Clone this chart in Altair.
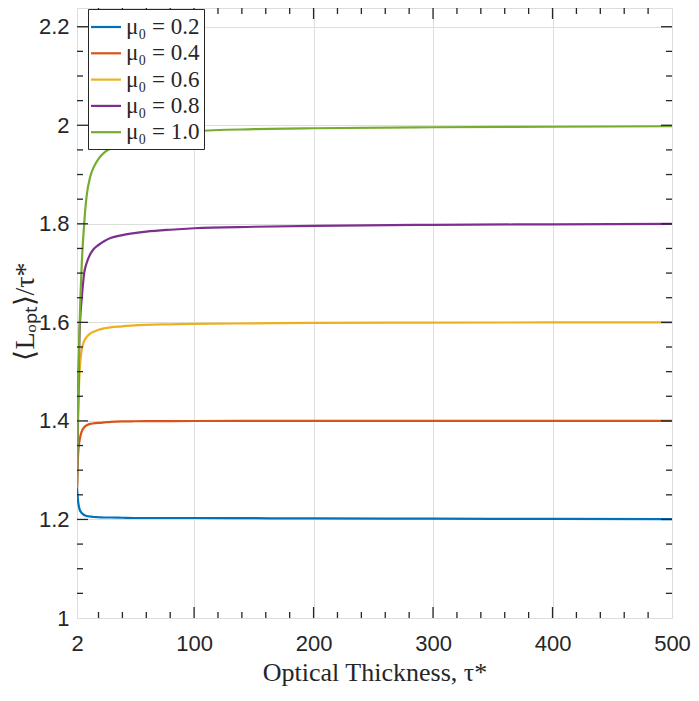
import altair as alt
import pandas as pd

# ---- data ----
tau = [2, 3, 4, 5, 6, 8, 10, 13, 16, 20, 25, 30, 40, 50, 60, 80, 100, 150, 200, 300, 400, 500]
mu02 = [1.265, 1.235, 1.222, 1.216, 1.213, 1.209, 1.207, 1.206, 1.205, 1.2045, 1.204, 1.204, 1.2035, 1.203, 1.203, 1.203, 1.203, 1.2025, 1.202, 1.2015, 1.201, 1.2005]
mu04 = [1.265, 1.335, 1.358, 1.371, 1.379, 1.387, 1.391, 1.394, 1.395, 1.396, 1.397, 1.398, 1.399, 1.3993, 1.3995, 1.3997, 1.3998, 1.3999, 1.4, 1.4, 1.4, 1.4]
mu06 = [1.265, 1.41, 1.49, 1.525, 1.545, 1.562, 1.570, 1.577, 1.581, 1.585, 1.588, 1.590, 1.592, 1.594, 1.595, 1.596, 1.597, 1.598, 1.599, 1.5995, 1.5998, 1.600]
mu08 = [1.265, 1.45, 1.57, 1.62, 1.65, 1.70, 1.72, 1.738, 1.749, 1.757, 1.765, 1.771, 1.777, 1.781, 1.784, 1.788, 1.791, 1.794, 1.796, 1.798, 1.799, 1.800]
mu10 = [1.265, 1.46, 1.58, 1.66, 1.72, 1.80, 1.855, 1.895, 1.915, 1.932, 1.945, 1.953, 1.964, 1.972, 1.977, 1.984, 1.988, 1.992, 1.994, 1.996, 1.997, 1.998]

series_names = ["μ₀ = 0.2", "μ₀ = 0.4", "μ₀ = 0.6", "μ₀ = 0.8", "μ₀ = 1.0"]
series_values = [mu02, mu04, mu06, mu08, mu10]
series_colors = ["#0072BD", "#D95319", "#EDB120", "#7E2F8E", "#77AC30"]

x_tick_labels = [2, 100, 200, 300, 400, 500]
y_tick_labels = [1, 1.2, 1.4, 1.6, 1.8, 2, 2.2]
x_major_ticks = [100, 200, 300, 400]
x_minor_ticks = [20, 40, 60, 80, 120, 140, 160, 180, 220, 240, 260, 280,
                 320, 340, 360, 380, 420, 440, 460, 480]
y_major_ticks = [1.2, 1.4, 1.6, 1.8, 2.0, 2.2]
y_minor_ticks = [1.05, 1.1, 1.15, 1.25, 1.3, 1.35, 1.45, 1.5, 1.55, 1.65, 1.7, 1.75,
                 1.85, 1.9, 1.95, 2.05, 2.1, 2.15]

W, H = 595, 610
X_DOMAIN = [2, 500]
Y_DOMAIN = [1, 2.238]

rows = []
for name, vals in zip(series_names, series_values):
    for t, v in zip(tau, vals):
        rows.append({"tau": t, "val": v, "series": name})
df = pd.DataFrame(rows)

xscale = alt.Scale(domain=X_DOMAIN, nice=False, zero=False)
yscale = alt.Scale(domain=Y_DOMAIN, nice=False, zero=False)

lines = alt.Chart(df).mark_line(strokeWidth=2.2, interpolate="monotone", clip=True).encode(
    x=alt.X("tau:Q", scale=xscale,
            axis=alt.Axis(values=x_tick_labels, title="Optical Thickness, τ*", ticks=False,
                          domain=False, grid=True, gridColor="#dedede", gridWidth=1,
                          labelFont="Liberation Sans", labelFontSize=22, labelColor="#262626",
                          labelPadding=15, labelFlush=False,
                          titleFont="Liberation Serif", titleFontSize=26, titleFontWeight="normal",
                          titleColor="#262626", titleY=62, titleBaseline="alphabetic")),
    y=alt.Y("val:Q", scale=yscale,
            axis=alt.Axis(values=y_tick_labels, format="~g", title="⟨Lₒₚₜ⟩/τ*", ticks=False,
                          domain=False, grid=True, gridColor="#dedede", gridWidth=1,
                          labelFont="Liberation Sans", labelFontSize=22, labelColor="#262626",
                          labelPadding=8, labelFlush=False,
                          titleFont="Liberation Serif", titleFontSize=28, titleFontWeight="normal",
                          titleColor="#262626", titleX=-52, titleY=303, titleAngle=-90,
                          titleAlign="center", titleBaseline="middle")),
    color=alt.Color("series:N", sort=series_names,
                    scale=alt.Scale(domain=series_names, range=series_colors),
                    legend=alt.Legend(title=None, orient="none", legendX=11, legendY=1,
                                      fillColor="white", strokeColor="#262626", padding=4,
                                      symbolType="M-1.2,0H1.2", symbolSize=625,
                                      symbolStrokeWidth=2.2,
                                      labelFont="Liberation Serif", labelFontSize=23,
                                      labelColor="#262626", labelOffset=6, rowPadding=0.3)),
)

def tick_layer(values, axis, length):
    d = pd.DataFrame({"v": values})
    base = alt.Chart(d).mark_rule(color="#262626", strokeWidth=1.3)
    if axis == "x":
        enc = alt.X("v:Q", scale=xscale)
        return (base.encode(x=enc, y=alt.value(H), y2=alt.value(H - length)) +
                base.encode(x=enc, y=alt.value(0), y2=alt.value(length)))
    enc = alt.Y("v:Q", scale=yscale)
    return (base.encode(y=enc, x=alt.value(0), x2=alt.value(length)) +
            base.encode(y=enc, x=alt.value(W), x2=alt.value(W - length)))

ticks = (tick_layer(x_major_ticks, "x", 11) + tick_layer(x_minor_ticks, "x", 6) +
         tick_layer(y_major_ticks, "y", 11) + tick_layer(y_minor_ticks, "y", 6))

chart = alt.layer(lines, ticks).properties(
    width=W, height=H,
    autosize=alt.AutoSizeParams(type="none"),
    padding={"left": 69, "top": 0, "right": 19, "bottom": 72},
).configure_view(stroke="#262626", strokeWidth=1.5).configure(background="white")

chart.save("out.html", embed_options={"renderer": "svg", "actions": False})
